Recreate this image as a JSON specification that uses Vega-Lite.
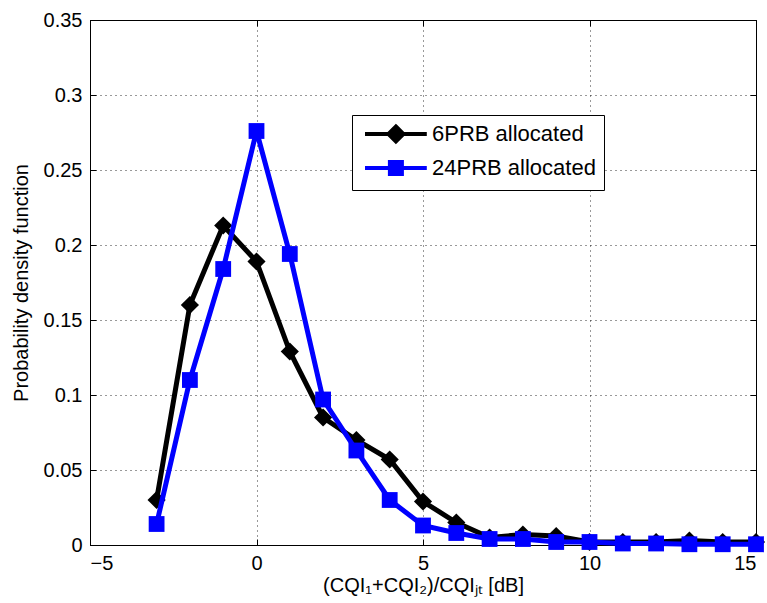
{
  "$schema": "https://vega.github.io/schema/vega-lite/v6.json",
  "width": 666,
  "height": 525,
  "autosize": "none",
  "padding": {"left": 90, "top": 20, "right": 11, "bottom": 58},
  "background": "white",
  "config": {
    "font": "Liberation Sans",
    "view": {"stroke": "black", "strokeWidth": 1},
    "axis": {"labelFont": "Liberation Sans", "titleFont": "Liberation Sans", "labelFontSize": 20, "titleFontSize": 20, "titleFontWeight": "normal", "labelColor": "black", "titleColor": "black", "domainColor": "black", "tickColor": "black", "gridColor": "black", "gridDash": [1, 4], "gridOpacity": 0.8}
  },
  "data": {"values": [
    {"x": -3, "y": 0.03, "s": "6PRB allocated"},
    {"x": -2, "y": 0.16, "s": "6PRB allocated"},
    {"x": -1, "y": 0.213, "s": "6PRB allocated"},
    {"x": 0, "y": 0.189, "s": "6PRB allocated"},
    {"x": 1, "y": 0.129, "s": "6PRB allocated"},
    {"x": 2, "y": 0.085, "s": "6PRB allocated"},
    {"x": 3, "y": 0.07, "s": "6PRB allocated"},
    {"x": 4, "y": 0.057, "s": "6PRB allocated"},
    {"x": 5, "y": 0.029, "s": "6PRB allocated"},
    {"x": 6, "y": 0.015, "s": "6PRB allocated"},
    {"x": 7, "y": 0.005, "s": "6PRB allocated"},
    {"x": 8, "y": 0.007, "s": "6PRB allocated"},
    {"x": 9, "y": 0.006, "s": "6PRB allocated"},
    {"x": 10, "y": 0.002, "s": "6PRB allocated"},
    {"x": 11, "y": 0.002, "s": "6PRB allocated"},
    {"x": 12, "y": 0.002, "s": "6PRB allocated"},
    {"x": 13, "y": 0.003, "s": "6PRB allocated"},
    {"x": 14, "y": 0.002, "s": "6PRB allocated"},
    {"x": 15, "y": 0.002, "s": "6PRB allocated"},
    {"x": -3, "y": 0.014, "s": "24PRB allocated"},
    {"x": -2, "y": 0.11, "s": "24PRB allocated"},
    {"x": -1, "y": 0.184, "s": "24PRB allocated"},
    {"x": 0, "y": 0.276, "s": "24PRB allocated"},
    {"x": 1, "y": 0.194, "s": "24PRB allocated"},
    {"x": 2, "y": 0.097, "s": "24PRB allocated"},
    {"x": 3, "y": 0.063, "s": "24PRB allocated"},
    {"x": 4, "y": 0.03, "s": "24PRB allocated"},
    {"x": 5, "y": 0.013, "s": "24PRB allocated"},
    {"x": 6, "y": 0.008, "s": "24PRB allocated"},
    {"x": 7, "y": 0.004, "s": "24PRB allocated"},
    {"x": 8, "y": 0.004, "s": "24PRB allocated"},
    {"x": 9, "y": 0.002, "s": "24PRB allocated"},
    {"x": 10, "y": 0.002, "s": "24PRB allocated"},
    {"x": 11, "y": 0.001, "s": "24PRB allocated"},
    {"x": 12, "y": 0.001, "s": "24PRB allocated"},
    {"x": 13, "y": 0.0005, "s": "24PRB allocated"},
    {"x": 14, "y": 0.0005, "s": "24PRB allocated"},
    {"x": 15, "y": 0.0005, "s": "24PRB allocated"}
  ]},
  "resolve": {"axis": {"x": "independent", "y": "independent"}},
  "layer": [
    {
      "transform": [{"filter": "datum.s === '6PRB allocated'"}],
      "mark": {"type": "line", "strokeWidth": 5, "clip": false},
      "encoding": {
        "x": {"field": "x", "type": "quantitative", "scale": {"domain": [-5, 15], "nice": false}, "axis": {"title": "(CQI₁+CQI₂)/CQIⱼₜ [dB]", "values": [-5, 0, 5, 10, 15], "grid": true, "tickSize": -6, "labelPadding": 14, "titlePadding": 2}},
        "y": {"field": "y", "type": "quantitative", "scale": {"domain": [0, 0.35], "nice": false}, "axis": {"title": "Probability density function", "values": [0, 0.05, 0.1, 0.15, 0.2, 0.25, 0.3, 0.35], "format": ".2~f", "grid": true, "tickSize": -6, "labelPadding": 14, "titlePadding": 12}},
        "color": {"field": "s", "type": "nominal", "scale": {"domain": ["6PRB allocated", "24PRB allocated"], "range": ["black", "#0000ff"]},
          "legend": {"title": null, "orient": "none", "legendX": 262, "legendY": 95, "strokeColor": "black", "fillColor": "white", "padding": 8, "labelFontSize": 22, "labelLimit": 300, "labelFont": "Liberation Sans", "labelColor": "black", "symbolSize": 144, "symbolStrokeWidth": 4, "rowPadding": 4, "labelOffset": 50,
            "encode": {"symbols": {"update": {
              "shape": {"signal": "datum.value === '6PRB allocated' ? 'M-1,0H9.3M4.15,-1.25L5.4,0L4.15,1.25L2.9,0Z' : 'M-1,0H9.3M3.15,-1H5.15V1H3.15Z'"},
              "fill": {"signal": "datum.value === '6PRB allocated' ? 'black' : '#0000ff'"},
              "stroke": {"signal": "datum.value === '6PRB allocated' ? 'black' : '#0000ff'"},
              "strokeWidth": {"value": 4},
              "opacity": {"value": 1}
            }}}}}
      }
    },
    {
      "transform": [{"filter": "datum.s === '6PRB allocated'"}],
      "mark": {"type": "point", "filled": true, "opacity": 1, "size": 330, "shape": "diamond", "clip": false},
      "encoding": {
        "x": {"field": "x", "type": "quantitative", "axis": {"orient": "top", "title": null, "labels": false, "values": [-5, 0, 5, 10, 15], "grid": false, "domain": false, "tickSize": -6}},
        "y": {"field": "y", "type": "quantitative", "axis": {"orient": "right", "title": null, "labels": false, "values": [0, 0.05, 0.1, 0.15, 0.2, 0.25, 0.3, 0.35], "grid": false, "domain": false, "tickSize": -6}},
        "color": {"field": "s", "type": "nominal"}
      }
    },
    {
      "transform": [{"filter": "datum.s === '24PRB allocated'"}],
      "mark": {"type": "line", "strokeWidth": 5, "clip": false},
      "encoding": {
        "x": {"field": "x", "type": "quantitative", "axis": null},
        "y": {"field": "y", "type": "quantitative", "axis": null},
        "color": {"field": "s", "type": "nominal"}
      }
    },
    {
      "transform": [{"filter": "datum.s === '24PRB allocated'"}],
      "mark": {"type": "point", "filled": true, "opacity": 1, "size": 250, "shape": "square", "clip": false},
      "encoding": {
        "x": {"field": "x", "type": "quantitative", "axis": null},
        "y": {"field": "y", "type": "quantitative", "axis": null},
        "color": {"field": "s", "type": "nominal"}
      }
    }
  ]
}
